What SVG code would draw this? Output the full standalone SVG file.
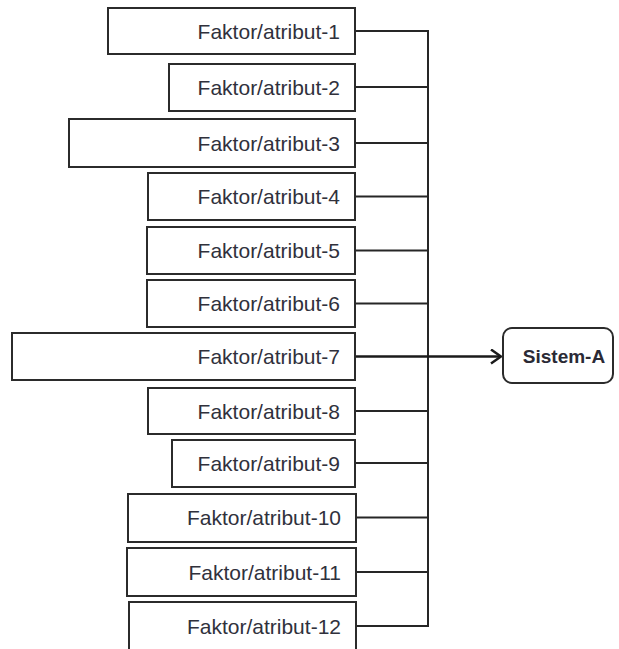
<svg xmlns="http://www.w3.org/2000/svg" width="619" height="649" viewBox="0 0 619 649">
  <style>
    .box { fill: #ffffff; stroke: #2b2b2b; stroke-width: 2; }
    .lbl { font-family: "Liberation Sans", Arial, sans-serif; font-size: 21px; fill: #30313c; text-anchor: end; }
    .wire { fill: none; stroke: #262626; stroke-width: 2; }
    .main { fill: none; stroke: #1a1a1a; stroke-width: 2.5; }
    .sys { font-family: "Liberation Sans", Arial, sans-serif; font-size: 19px; font-weight: bold; fill: #2a2a35; text-anchor: middle; }
  </style>
  <defs>
    <marker id="chev" viewBox="0 0 12 16" refX="11" refY="8" markerWidth="12" markerHeight="16" markerUnits="userSpaceOnUse" orient="auto">
      <path d="M1,1 L11,8 L1,15" fill="none" stroke="#1a1a1a" stroke-width="2.5"/>
    </marker>
  </defs>
  <rect width="619" height="649" fill="#ffffff"/>

  <g id="connectors">
    <path class="wire" d="M355,31 H428 M355,87 H428 M355,143 H428 M355,196.5 H428 M355,250.5 H428 M355,303.5 H428 M355,411 H428 M355,463 H428 M355,517.5 H428 M355,572 H428 M355,626 H428"/>
    <path class="wire" d="M428,30 V627"/>
    <path class="main" d="M355,356.5 H501" marker-end="url(#chev)"/>
  </g>

  <g id="f1"><rect class="box" x="108" y="8" width="247" height="46"/><text class="lbl" x="340" y="38.5">Faktor/atribut-1</text></g>
  <g id="f2"><rect class="box" x="169" y="64" width="186" height="47"/><text class="lbl" x="340" y="94.5">Faktor/atribut-2</text></g>
  <g id="f3"><rect class="box" x="69" y="119" width="286" height="48"/><text class="lbl" x="340" y="150.5">Faktor/atribut-3</text></g>
  <g id="f4"><rect class="box" x="148" y="173" width="207" height="47"/><text class="lbl" x="340" y="204">Faktor/atribut-4</text></g>
  <g id="f5"><rect class="box" x="147" y="227" width="208" height="47"/><text class="lbl" x="340" y="258">Faktor/atribut-5</text></g>
  <g id="f6"><rect class="box" x="147" y="280" width="208" height="47"/><text class="lbl" x="340" y="311">Faktor/atribut-6</text></g>
  <g id="f7"><rect class="box" x="12" y="333" width="343" height="47"/><text class="lbl" x="340" y="364">Faktor/atribut-7</text></g>
  <g id="f8"><rect class="box" x="148" y="388" width="207" height="46"/><text class="lbl" x="340" y="418.5">Faktor/atribut-8</text></g>
  <g id="f9"><rect class="box" x="172" y="440" width="183" height="47"/><text class="lbl" x="340" y="470.5">Faktor/atribut-9</text></g>
  <g id="f10"><rect class="box" x="128" y="494" width="228" height="48"/><text class="lbl" x="341" y="525">Faktor/atribut-10</text></g>
  <g id="f11"><rect class="box" x="127" y="548" width="229" height="48"/><text class="lbl" x="341" y="579.5">Faktor/atribut-11</text></g>
  <g id="f12"><rect class="box" x="129" y="602" width="227" height="48"/><text class="lbl" x="341" y="633.5">Faktor/atribut-12</text></g>

  <g id="sistem-a"><rect class="box" x="503" y="328" width="110" height="55" rx="9" ry="9"/><text class="sys" x="564" y="363">Sistem-A</text></g>
</svg>
